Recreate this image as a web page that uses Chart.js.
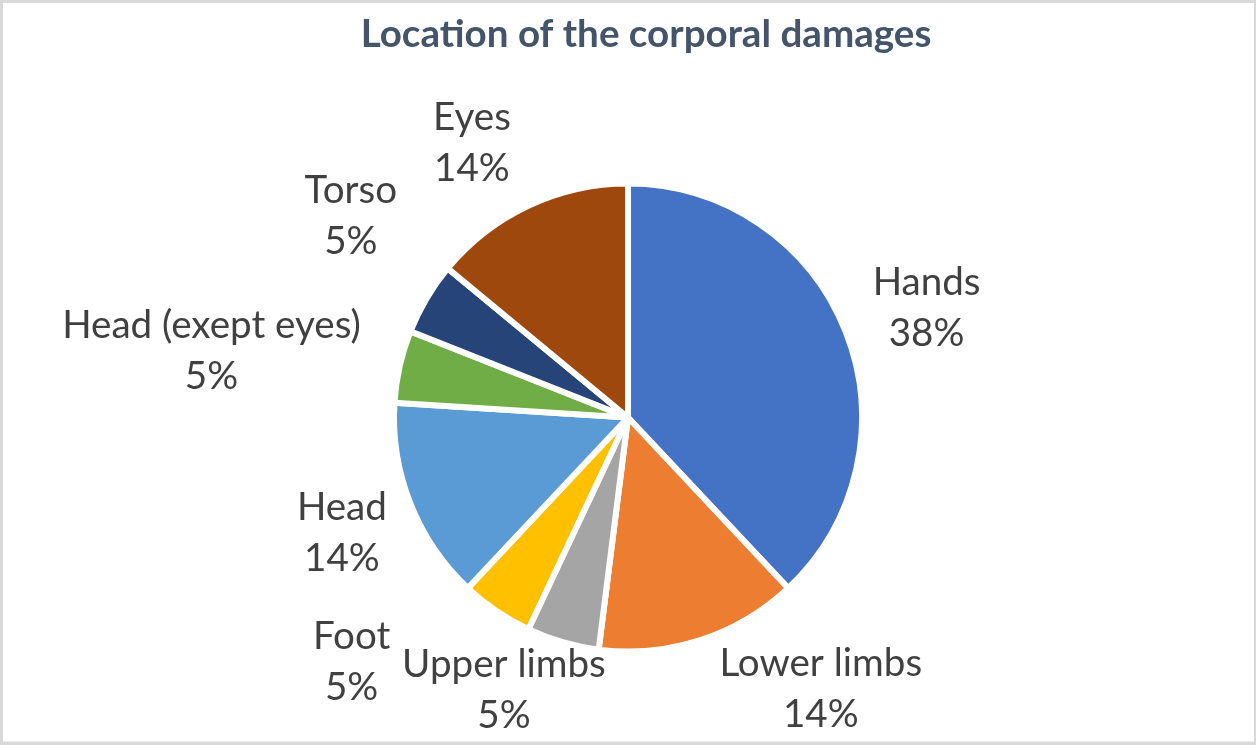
<!DOCTYPE html>
<html>
<head>
<meta charset="utf-8">
<script src="https://cdn.jsdelivr.net/npm/chart.js@4.4.1/dist/chart.umd.min.js"></script>
<style>
  html, body { margin: 0; padding: 0; background: #ffffff; }
  #wrap { position: absolute; left: 0; top: 0; width: 1258px; height: 745px; }
  canvas { display: block; }
</style>
</head>
<body>
<div id="wrap"><canvas id="c" width="1258" height="745"></canvas></div>
<script>
// ---- Data ----
const categories = ["Hands", "Lower limbs", "Upper limbs", "Foot", "Head", "Head (exept eyes)", "Torso", "Eyes"];
const percentValues = [38, 14, 5, 5, 14, 5, 5, 14];
const chartTitle = "Location of the corporal damages";

// ---- Styles ----
const sliceColors = ["#4472C4", "#ED7D31", "#A5A5A5", "#FFC000", "#5B9BD5", "#70AD47", "#264478", "#9E480E"];
// label placement relative to each slice: [angle shift (deg) from slice middle, distance as multiple of radius]
const labelPlacement = [[1.2, 1.379], [-17.5, 1.437], [8.4, 1.290], [14.4, 1.595], [-0.1, 1.333], [-3.3, 1.827], [5.6, 1.487], [-4.3, 1.372]];
const FONT = "Lato, 'Open Sans', 'DejaVu Sans', sans-serif";
const labelSize = 38.6;
const titleSize = 38.6;
const lineGap = 51;

const framePlugin = {
  id: 'frame',
  beforeDraw(chart) {
    const ctx = chart.ctx;
    const w = chart.width, h = chart.height;
    ctx.save();
    ctx.fillStyle = '#ffffff';
    ctx.fillRect(0, 0, w, h);
    ctx.fillStyle = '#D9D9D9';
    ctx.fillRect(0, 0, w - 2, 3);          // top
    ctx.fillRect(0, 0, 3, h);              // left
    ctx.fillRect(w - 4, 0, 2, h);          // right
    ctx.fillRect(0, h - 3.5, w - 2, 3.5);  // bottom
    ctx.restore();
  },
  afterDraw(chart) {
    const ctx = chart.ctx;
    ctx.save();
    ctx.fillStyle = '#44546A';
    ctx.font = 'bold ' + titleSize + 'px ' + FONT;
    ctx.textAlign = 'center';
    ctx.textBaseline = 'alphabetic';
    ctx.fillText(chartTitle, 646, 47.3);
    ctx.restore();
  }
};

const labelPlugin = {
  id: 'outLabels',
  afterDatasetsDraw(chart) {
    const ctx = chart.ctx;
    const meta = chart.getDatasetMeta(0);
    const capH = 0.7165 * labelSize;
    ctx.save();
    ctx.fillStyle = '#404040';
    ctx.font = labelSize + 'px ' + FONT;
    ctx.textAlign = 'center';
    ctx.textBaseline = 'alphabetic';
    meta.data.forEach((arc, i) => {
      const p = arc.getProps(['x', 'y', 'startAngle', 'endAngle', 'outerRadius'], true);
      const visR = p.outerRadius - 3;
      const mid = (p.startAngle + p.endAngle) / 2 + labelPlacement[i][0] * Math.PI / 180;
      const d = visR * labelPlacement[i][1];
      const cx = p.x + Math.cos(mid) * d;
      const cy = p.y + Math.sin(mid) * d;
      const pct = Math.round(percentValues[i] / percentValues.reduce((a, b) => a + b, 0) * 100) + '%';
      ctx.fillText(categories[i], cx, cy - lineGap / 2 + capH / 2);
      ctx.fillText(pct, cx, cy + lineGap / 2 + capH / 2);
    });
    ctx.restore();
  }
};

new Chart(document.getElementById('c'), {
  type: 'pie',
  data: {
    labels: categories,
    datasets: [{
      data: percentValues,
      backgroundColor: sliceColors,
      borderColor: '#ffffff',
      borderWidth: 6,
      radius: 234
    }]
  },
  options: {
    responsive: false,
    animation: false,
    layout: { padding: { left: 328, right: 330, top: 158, bottom: 68 } },
    plugins: {
      legend: { display: false },
      tooltip: { enabled: false },
      title: { display: false }
    }
  },
  plugins: [framePlugin, labelPlugin]
});
</script>
</body>
</html>
